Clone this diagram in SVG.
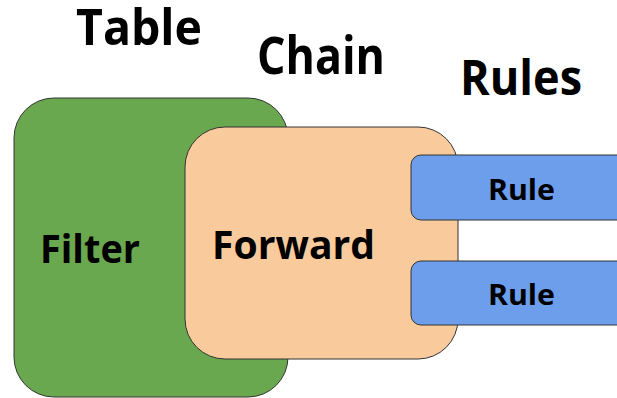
<svg xmlns="http://www.w3.org/2000/svg" width="617" height="398" viewBox="0 0 617 398">
<style>
text{font-family:"Open Sans","Noto Sans","Liberation Sans",sans-serif;font-weight:700;fill:#000}
.box{stroke:#333;stroke-width:1}
</style>
<rect width="617" height="398" fill="#fff"/>
<g id="labels">
<text x="76" y="45" font-size="50" textLength="126" lengthAdjust="spacingAndGlyphs">Table</text>
<text x="257" y="74" font-size="52" textLength="128" lengthAdjust="spacingAndGlyphs">Chain</text>
<text x="460" y="95" font-size="49" textLength="122" lengthAdjust="spacingAndGlyphs">Rules</text>
</g>
<g id="filter">
<rect class="box" x="14" y="98" width="274" height="299" rx="40" fill="#6aa84f"/>
<text x="40" y="263" font-size="39" textLength="100" lengthAdjust="spacingAndGlyphs">Filter</text>
</g>
<g id="forward">
<rect class="box" x="185" y="127" width="273" height="232" rx="40" fill="#f9cb9c"/>
<text x="212" y="259" font-size="40" textLength="163" lengthAdjust="spacingAndGlyphs">Forward</text>
</g>
<g id="rule1">
<rect class="box" x="411" y="155" width="240" height="65" rx="10" fill="#6d9eeb"/>
<text x="488" y="200" font-size="28" textLength="67" lengthAdjust="spacingAndGlyphs">Rule</text>
</g>
<g id="rule2">
<rect class="box" x="411" y="261" width="240" height="64" rx="10" fill="#6d9eeb"/>
<text x="488" y="305" font-size="28" textLength="67" lengthAdjust="spacingAndGlyphs">Rule</text>
</g>
<g id="connectors"/>
</svg>
